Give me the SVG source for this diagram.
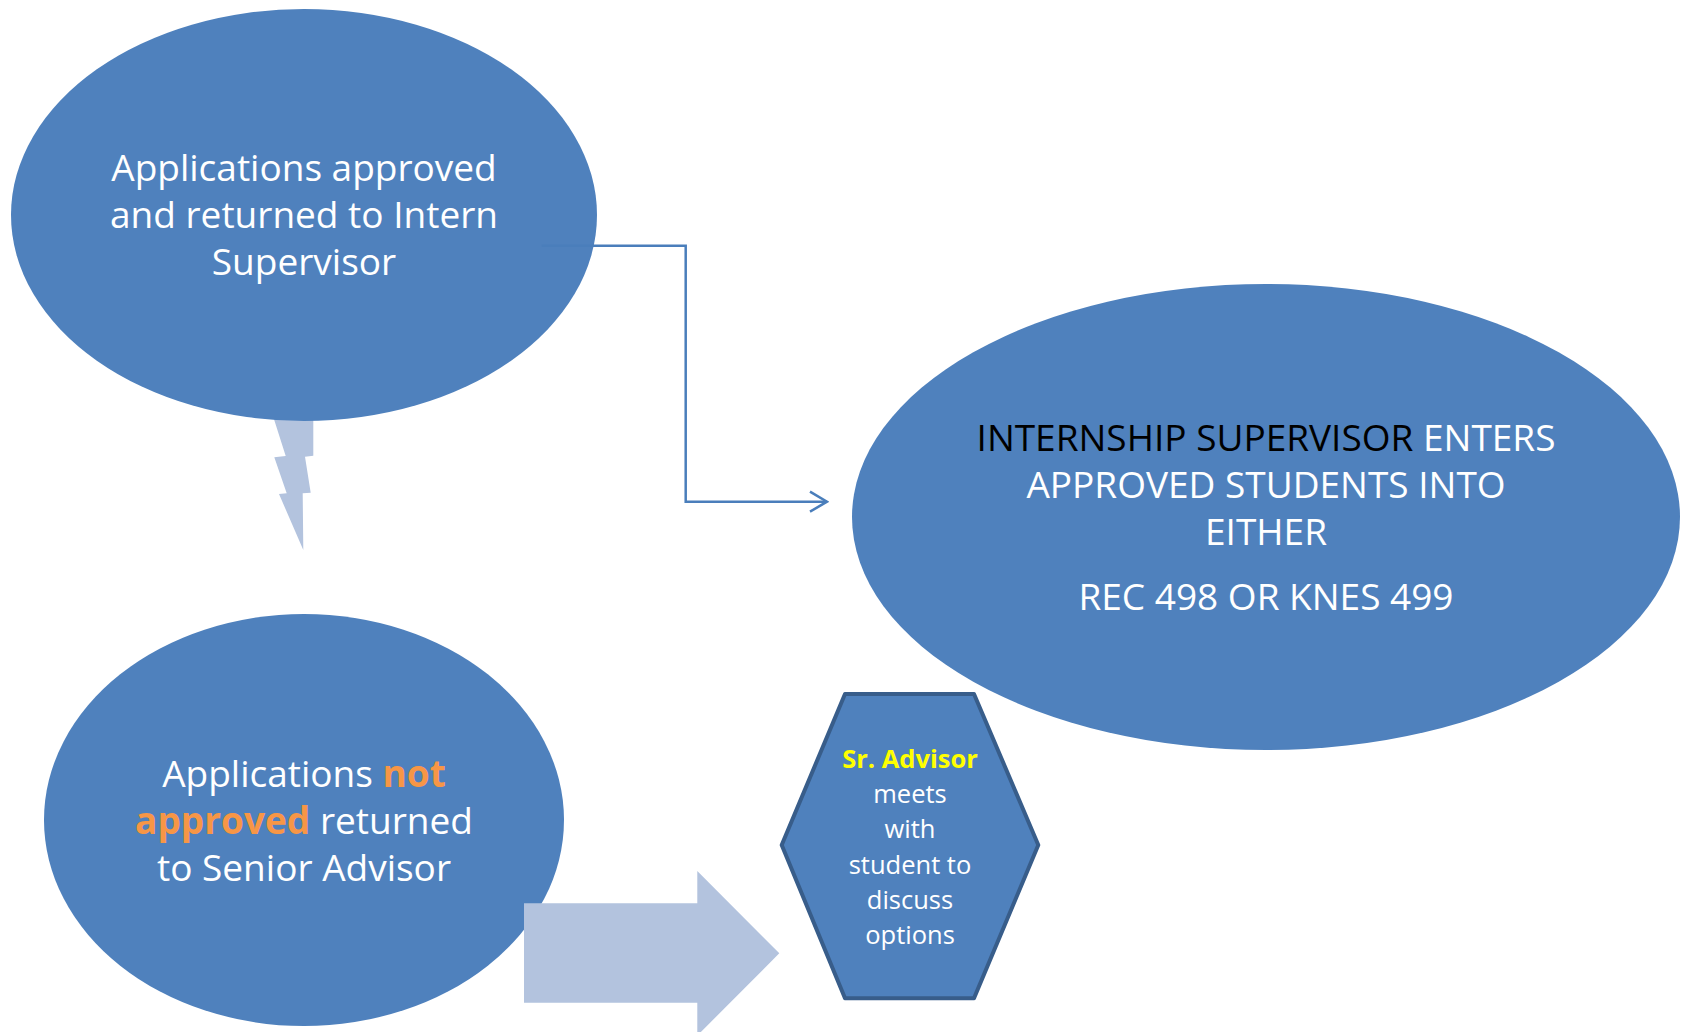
<svg xmlns="http://www.w3.org/2000/svg" width="1685" height="1032" viewBox="0 0 1685 1032">
<defs>
<style>
.node{fill:#4F81BD}
.light{fill:#B3C3DE}
.t{font-family:"Open Sans","Noto Sans","Liberation Sans",sans-serif;fill:#FFFFFF;text-anchor:middle}
.big{font-size:37px}
.small{font-size:25.5px}
.or{fill:#F79646;font-weight:bold}
.yl{fill:#FFFF00;font-weight:bold}
.conn{fill:none;stroke:#4A7EBB;stroke-width:2.5}
</style>
<marker id="open" viewBox="0 0 20 24" markerWidth="20" markerHeight="24" refX="18" refY="12" orient="auto" markerUnits="userSpaceOnUse">
<path d="M1,2 L18,12 L1,22" fill="none" stroke="#4A7EBB" stroke-width="2.5"/>
</marker>
</defs>
<rect width="1685" height="1032" fill="#FFFFFF"/>
<g id="bolt">
<polygon class="light" points="271.7,412 313.3,412 313.3,455.7 305,456.7 310.7,492.7 302.7,493.3 303.3,550 279,494 286.7,493.3 274.3,457.3 285.7,456"/>
</g>
<g id="n1">
<ellipse class="node" cx="304" cy="215" rx="293" ry="206"/>
<text class="t big"><tspan x="304" y="180.5">Applications approved</tspan><tspan x="304" y="227.5">and returned to Intern</tspan><tspan x="304" y="274.5">Supervisor</tspan></text>
</g>
<g id="n2">
<ellipse class="node" cx="304" cy="820" rx="260" ry="206"/>
<text class="t big"><tspan x="304" y="786.5">Applications <tspan class="or">not</tspan></tspan><tspan x="304" y="833.5"><tspan class="or">approved</tspan> returned</tspan><tspan x="304" y="880.5">to Senior Advisor</tspan></text>
</g>
<g id="n3">
<ellipse class="node" cx="1266" cy="517" rx="414" ry="233"/>
<text class="t big"><tspan x="1266" y="450.5"><tspan fill="#000000">INTERNSHIP SUPERVISOR</tspan> ENTERS</tspan><tspan x="1266" y="497.5">APPROVED STUDENTS INTO</tspan><tspan x="1266" y="544.5">EITHER</tspan><tspan x="1266" y="609.5">REC 498 OR KNES 499</tspan></text>
</g>
<g id="n4">
<polygon class="node" points="845,694 974,694 1038.3,845 974,998.3 845,998.3 781.7,845" stroke="#385D8A" stroke-width="4" stroke-linejoin="round"/>
<text class="t small"><tspan class="yl" x="910" y="768">Sr. Advisor</tspan><tspan x="910" y="803">meets</tspan><tspan x="910" y="838">with</tspan><tspan x="910" y="874">student to</tspan><tspan x="910" y="909">discuss</tspan><tspan x="910" y="944">options</tspan></text>
</g>
<g id="connectors">
<polyline class="conn" points="541.7,245.7 685.7,245.7 685.7,501.7 827,501.7" marker-end="url(#open)"/>
<polygon id="blockarrow" class="light" points="524,903.3 697.3,903.3 697.3,871 779.3,953.3 697.3,1035.6 697.3,1002.7 524,1002.7"/>
</g>
</svg>
